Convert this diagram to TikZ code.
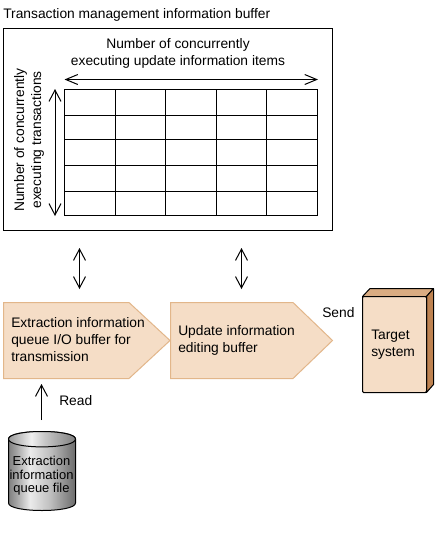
\documentclass[tikz,border=0pt]{standalone}
\usepackage{fontspec}
\setmainfont{Liberation Sans}
\usetikzlibrary{arrows.meta}
\pgfdeclarehorizontalshading{cylbody}{100bp}{
  color(0bp)=(black!50);color(25bp)=(black!50);color(30bp)=(black!38);color(41bp)=(black!8);color(56bp)=(black!25);color(75bp)=(black!58);color(100bp)=(black!58)}
\pgfdeclarehorizontalshading{cyltop}{100bp}{
  color(0bp)=(black!40);color(25bp)=(black!40);color(42bp)=(black!6);color(52bp)=(black!22);color(75bp)=(black!50);color(100bp)=(black!50)}
\definecolor{peach}{RGB}{245,221,198}
\definecolor{peachedge}{RGB}{226,182,138}
\definecolor{boxtop}{RGB}{218,172,130}
\definecolor{boxside}{RGB}{190,130,80}
\tikzset{
  px/.style={x=0.75pt,y=-0.75pt},
  line/.style={draw=black,line width=0.75pt},
  twoway/.style={line,{Straight Barb[length=8.5pt,width=9pt,line width=0.75pt]}-{Straight Barb[length=8.5pt,width=9pt,line width=0.75pt]}},
  oneway/.style={line,-{Straight Barb[length=8.5pt,width=9pt,line width=0.75pt]}},
  label/.style={inner sep=0pt,font=\fontsize{10.35pt}{12.75pt}\selectfont,align=left},
  pent/.style={fill=peach,draw=peachedge,line width=0.75pt,line join=miter}
}
\begin{document}
\begin{tikzpicture}[px]
\useasboundingbox (0,0) rectangle (437,533);
\fill[white] (0,0) rectangle (437,533);

% outer buffer
\node[label,anchor=west] (title) at (3,15) {Transaction management information buffer};
\node[line,draw,outer sep=0pt,minimum width=246.75pt,minimum height=151.5pt,inner sep=0pt,anchor=north west] (outer) at (3.5,28.5) {};

% grid
\draw[line] (64.5,89.5) rectangle (317.5,215.5);
\foreach \gx in {115.5,165.5,216.5,266.5} \draw[line] (\gx,89.5) -- (\gx,215.5);
\foreach \gy in {115.5,139.5,165.5,191.5} \draw[line] (64.5,\gy) -- (317.5,\gy);

\node[label,align=center] (coltext) at (178,53) {Number of concurrently\\executing update information items};
\coordinate (colL) at (64.5,79.5);
\coordinate (colR) at (318,79.5);
\draw[line,{Straight Barb[length=9pt,width=7.5pt,line width=0.75pt]}-{Straight Barb[length=9pt,width=7.5pt,line width=0.75pt]}] (colL) -- (colR);

\node[label,align=center,rotate=90] (rowtext) at (29,140) {Number of concurrently\\executing transactions};
\coordinate (rowT) at (55,89);
\coordinate (rowB) at (55,216);
\draw[twoway] (rowT) -- (rowB);

% two-way arrows
\coordinate (a1t) at (79.5,248);
\coordinate (a1b) at (79.5,289);
\draw[twoway] (a1t) -- (a1b);
\coordinate (a2t) at (241.5,248);
\coordinate (a2b) at (241.5,289);
\draw[twoway] (a2t) -- (a2b);

% pentagons
\draw[pent] (3.5,302.5) -- (129,302.5) -- (170,340.5) -- (129,378.5) -- (3.5,378.5) -- cycle;
\node[label,anchor=west] (ptext1) at (11,340) {Extraction information\\queue I/O buffer for\\transmission};
\draw[pent] (170.5,302.5) -- (293,302.5) -- (332.5,340.5) -- (293,378.5) -- (170.5,378.5) -- cycle;
\node[label,anchor=west] (ptext2) at (178,340.5) {Update information\\editing buffer};

\node[label,anchor=west] (send) at (322,313) {Send};

% target system
\fill[boxtop,draw=black,line width=0.75pt,line join=round] (362.5,296.5) -- (370,288.5) -- (433.5,288.5) -- (426.5,296.5) -- cycle;
\fill[boxside,draw=black,line width=0.75pt,line join=round] (426.5,296.5) -- (433.5,288.5) -- (433.5,384.5) -- (426.5,392.5) -- cycle;
\node[line,draw,outer sep=0pt,fill=peach,rounded corners=0.8pt,minimum width=48pt,minimum height=72pt,inner sep=0pt,anchor=north west] (target) at (362.5,296.5) {};
\node[label,anchor=west] (targettext) at (371,344.5) {Target\\system};

% read arrow
\node[label,anchor=west] (read) at (59,401) {Read};
\coordinate (r1) at (41.5,420);
\coordinate (r2) at (41.5,384);
\draw[oneway] (r1) -- (r2);

% cylinder
\path[shading=cylbody,draw=black,line width=0.75pt]
  (8.5,439) -- (8.5,503) .. controls (8.5,513) and (75.5,513) .. (75.5,503) -- (75.5,439)
  .. controls (75.5,429) and (8.5,429) .. (8.5,439) -- cycle;
\path[shading=cyltop,draw=black,line width=0.75pt]
  (8.5,439) .. controls (8.5,429) and (75.5,429) .. (75.5,439)
  .. controls (75.5,449.5) and (8.5,449.5) .. (8.5,439) -- cycle;
\node[label,align=center,font=\fontsize{9.7pt}{10.2pt}\selectfont] (cyltext) at (41.5,476) {Extraction\\information\\queue file};
\end{tikzpicture}
\end{document}
